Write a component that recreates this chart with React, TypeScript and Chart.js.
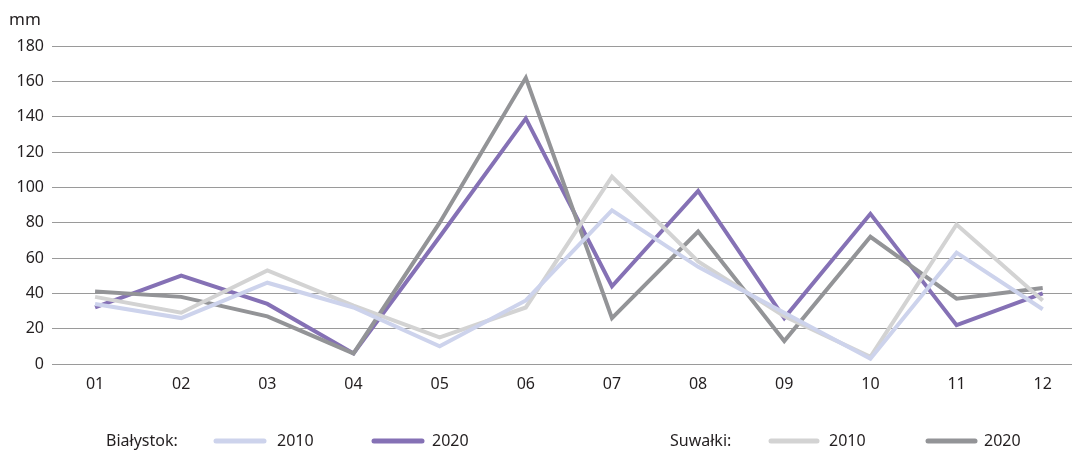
import React, { useEffect, useRef } from "react";
import { Chart, registerables } from "chart.js";

Chart.register(...registerables);

const months = ["01", "02", "03", "04", "05", "06", "07", "08", "09", "10", "11", "12"];
const bialystok2010 = [34, 26, 46, 32, 10, 36, 87, 55, 29, 3, 63, 31];
const bialystok2020 = [32, 50, 34, 6, 72, 139, 44, 98, 26, 85, 22, 40];
const suwalki2010 = [38, 29, 53, 33, 15, 32, 106, 58, 27, 4, 79, 36];
const suwalki2020 = [41, 38, 27, 6, 80, 162, 26, 75, 13, 72, 37, 43];
const yTicks = [0, 20, 40, 60, 80, 100, 120, 140, 160, 180];

const C_LBLUE = "#cdd3ec";
const C_PURPLE = "#8571b5";
const C_LGRAY = "#d3d3d3";
const C_DGRAY = "#939497";
const TEXT = "#231f20";
const FONT = "'Noto Sans', 'Open Sans', sans-serif";

const overlayPlugin = {
  id: "overlay",
  afterDraw(chart: any) {
    const ctx = chart.ctx as CanvasRenderingContext2D;
    ctx.save();
    ctx.fillStyle = TEXT;
    ctx.font = `17px ${FONT}`;
    ctx.textBaseline = "middle";
    ctx.textAlign = "left";
    ctx.fillText("mm", 9, 20);

    const ly = 441;
    const text = (s: string, x: number) => ctx.fillText(s, x, ly);
    const sw = (x1: number, x2: number, c: string) => {
      ctx.beginPath();
      ctx.strokeStyle = c;
      ctx.lineWidth = 5;
      ctx.lineCap = "round";
      ctx.moveTo(x1, ly);
      ctx.lineTo(x2, ly);
      ctx.stroke();
    };
    ctx.font = `16px ${FONT}`;
    text("Białystok:", 106);
    sw(216, 264, C_LBLUE);
    text("2010", 277);
    sw(374, 422, C_PURPLE);
    text("2020", 432);
    text("Suwałki:", 670);
    sw(771, 817, C_LGRAY);
    text("2010", 829);
    sw(928, 975, C_DGRAY);
    text("2020", 984);
    ctx.restore();
  },
};

export default function App() {
  const ref = useRef<HTMLCanvasElement | null>(null);
  useEffect(() => {
    if (!ref.current) return;
    const ds = (label: string, data: number[], color: string) => ({
      label,
      data: data.map((v, i) => ({ x: i, y: v })),
      borderColor: color,
      backgroundColor: color,
      borderWidth: 4,
      pointRadius: 0,
      tension: 0,
      fill: false,
      borderJoinStyle: "miter" as const,
    });
    const chart = new Chart(ref.current, {
      type: "line",
      data: {
        datasets: [
          ds("Białystok 2010", bialystok2010, C_LBLUE),
          ds("Suwałki 2010", suwalki2010, C_LGRAY),
          ds("Suwałki 2020", suwalki2020, C_DGRAY),
          ds("Białystok 2020", bialystok2020, C_PURPLE),
        ],
      },
      options: {
        animation: false,
        responsive: false,
        maintainAspectRatio: false,
        layout: { padding: { top: 46, right: 0, bottom: 46, left: 0 } },
        plugins: { legend: { display: false }, tooltip: { enabled: false } },
        scales: {
          x: {
            type: "linear",
            min: -0.5,
            max: 11.34,
            afterBuildTicks: (s: any) => {
              s.ticks = months.map((_, i) => ({ value: i }));
            },
            grid: { display: false, drawTicks: false },
            border: { display: false },
            ticks: {
              color: TEXT,
              font: { family: FONT, size: 16 },
              padding: 11,
              maxRotation: 0,
              autoSkip: false,
              callback: (v: any) => months[Number(v)] ?? "",
            },
            afterFit: (s: any) => {
              s.height = 40;
            },
          },
          y: {
            min: 0,
            max: 180,
            afterBuildTicks: (s: any) => {
              s.ticks = yTicks.map((v) => ({ value: v }));
            },
            grid: { color: "#9a9a9a", lineWidth: 1, drawTicks: false },
            border: { display: false },
            ticks: { color: TEXT, font: { family: FONT, size: 16 }, padding: 8 },
            afterFit: (s: any) => {
              s.width = 52;
            },
          },
        },
      },
      plugins: [overlayPlugin],
    });
    return () => chart.destroy();
  }, []);
  return (
    <div style={{ position: "fixed", left: 0, top: 0, width: 1072, height: 450, background: "#fff" }}>
      <canvas ref={ref} width={1072} height={450} style={{ width: 1072, height: 450, display: "block" }} />
    </div>
  );
}
